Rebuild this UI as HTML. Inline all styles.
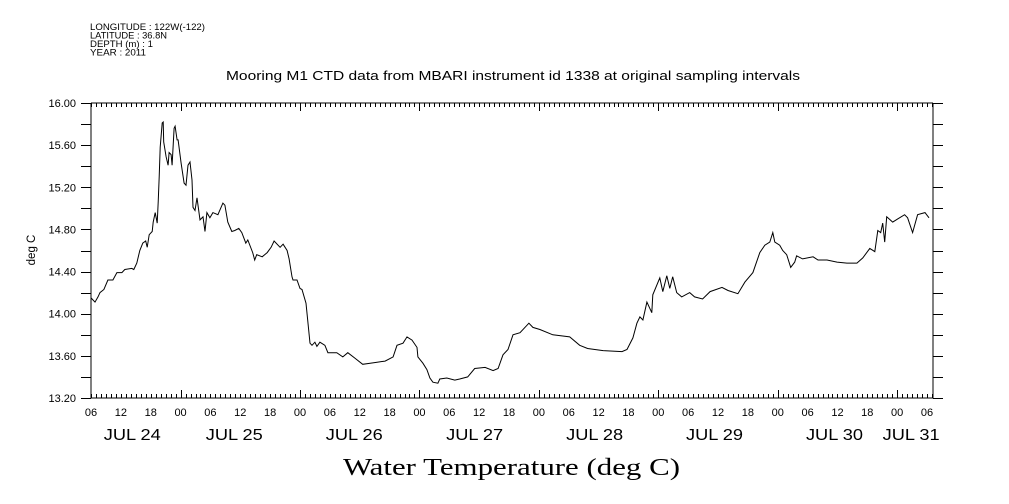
<!DOCTYPE html>
<html><head><meta charset="utf-8"><style>
body{margin:0;background:#fff}
svg{display:block}
text{font-family:"Liberation Sans",sans-serif;fill:#000}
</style></head><body>
<svg id="c" width="1009" height="504" viewBox="0 0 1009 504">
<g font-size="9">
<text x="90" y="30" textLength="115" lengthAdjust="spacingAndGlyphs">LONGITUDE : 122W(-122)</text>
<text x="90" y="38.5" textLength="77" lengthAdjust="spacingAndGlyphs">LATITUDE : 36.8N</text>
<text x="90" y="47" textLength="63" lengthAdjust="spacingAndGlyphs">DEPTH (m) : 1</text>
<text x="90" y="55.5" textLength="56" lengthAdjust="spacingAndGlyphs">YEAR : 2011</text>
</g>
<text x="226" y="80" font-size="12.5" textLength="574" lengthAdjust="spacingAndGlyphs">Mooring M1 CTD data from MBARI instrument id 1338 at original sampling intervals</text>
<text x="0" y="0" font-size="11.5" text-anchor="middle" transform="translate(35,250) rotate(-90)">deg C</text>
<text x="343" y="475" font-size="24" textLength="337" lengthAdjust="spacingAndGlyphs" style="font-family:'Liberation Serif',serif">Water Temperature (deg C)</text>
<g id="axes"></g>
<path id="line" fill="none" stroke="#000" stroke-width="1"/>
</svg>
<script>
const hours=[6.0,6.8,7.4,7.8,8.6,9.4,10.4,11.2,12.2,12.8,14.2,14.6,15.2,15.8,16.4,17.0,17.3,17.7,18.3,18.5,18.9,19.3,19.5,19.7,19.9,20.3,20.5,20.6,21.1,21.5,21.7,22.1,22.3,22.7,22.9,23.3,23.5,24.1,24.7,25.1,25.5,25.9,26.3,26.5,26.9,27.3,27.9,28.5,28.9,29.3,29.9,30.5,31.5,32.5,32.9,33.5,34.3,34.9,35.7,36.3,37.1,37.5,38.5,38.9,39.3,40.4,41.4,42.2,42.8,44.0,44.6,45.4,45.8,46.4,46.6,47.4,48.0,48.4,49.2,50.0,50.4,51.0,51.4,52.0,53.0,53.6,55.4,56.6,57.6,59.0,60.6,62.1,63.5,65.1,66.7,67.5,68.7,69.5,70.5,71.5,71.7,72.7,73.5,74.1,74.7,75.7,76.1,77.5,79.1,80.1,81.7,83.1,85.2,86.8,87.8,88.8,89.8,90.8,92.2,94.0,94.8,96.2,98.8,102.2,104.2,105.8,108.9,112.7,113.7,114.9,115.7,116.3,116.9,117.7,118.7,118.9,120.3,120.9,121.7,122.3,122.9,123.7,124.7,126.3,127.3,128.9,130.4,132.8,134.0,136.0,137.4,139.0,140.4,141.4,142.4,143.0,143.4,144.4,145.0,145.8,146.6,147.4,147.8,149.0,151.1,152.1,153.9,155.9,157.9,159.9,161.1,162.5,163.5,164.1,164.7,165.1,165.5,165.9,167.1,168.1,169.5,170.1,171.1,172.1,173.6,174.4];
const temps=[14.15,14.11,14.16,14.20,14.23,14.32,14.32,14.39,14.39,14.42,14.43,14.42,14.48,14.60,14.67,14.69,14.63,14.75,14.78,14.87,14.96,14.86,15.06,15.30,15.58,15.81,15.82,15.63,15.49,15.41,15.53,15.51,15.41,15.76,15.78,15.65,15.65,15.43,15.24,15.22,15.41,15.44,15.27,15.01,14.98,15.10,14.89,14.92,14.78,14.96,14.91,14.96,14.94,15.05,15.03,14.87,14.78,14.79,14.81,14.77,14.67,14.70,14.58,14.51,14.56,14.54,14.58,14.63,14.69,14.63,14.66,14.60,14.52,14.35,14.32,14.32,14.24,14.23,14.10,13.72,13.70,13.73,13.69,13.73,13.70,13.63,13.63,13.59,13.63,13.58,13.52,13.53,13.54,13.55,13.59,13.70,13.72,13.78,13.75,13.68,13.59,13.53,13.47,13.39,13.35,13.34,13.38,13.39,13.37,13.38,13.40,13.48,13.49,13.46,13.48,13.61,13.66,13.80,13.82,13.91,13.87,13.85,13.80,13.78,13.70,13.67,13.65,13.64,13.66,13.77,13.91,13.97,13.94,14.11,14.01,14.18,14.34,14.21,14.36,14.24,14.35,14.20,14.16,14.20,14.16,14.14,14.21,14.25,14.22,14.19,14.30,14.39,14.58,14.65,14.68,14.77,14.68,14.65,14.60,14.56,14.44,14.49,14.55,14.52,14.54,14.51,14.51,14.49,14.48,14.48,14.53,14.62,14.59,14.79,14.77,14.86,14.68,14.92,14.87,14.90,14.94,14.91,14.77,14.94,14.96,14.91];
const yTickLabels=["13.20","13.60","14.00","14.40","14.80","15.20","15.60","16.00"];
const hourLabels=["06","12","18","00"];
const dayLabels=["JUL 24","JUL 25","JUL 26","JUL 27","JUL 28","JUL 29","JUL 30","JUL 31"];
const dayLabelHours=[14.3,34.8,58.9,83.1,107.2,131.3,155.4,170.8];

const L=91,R=933,T=103,B=398,h0=6,h1=175.2,t0=13.2,t1=16.0;
const X=h=>L+(h-h0)/(h1-h0)*(R-L);
const Y=t=>B-(t-t0)/(t1-t0)*(B-T);
const NS='http://www.w3.org/2000/svg';
const ax=document.getElementById('axes');
function mk(tag,at,parent){const e=document.createElementNS(NS,tag);for(const k in at)e.setAttribute(k,at[k]);(parent||ax).appendChild(e);return e;}
let d='';
function seg(x1,y1,x2,y2){d+=`M${x1},${y1}L${x2},${y2}`;}
seg(L,T,R,T);seg(L,B,R,B);seg(L,T,L,B);seg(R,T,R,B);
for(let i=0;i<=14;i++){const y=Math.round(Y(t0+i*0.2))+0.5;seg(L-10,y,L,y);seg(R,y,R+10,y);}
for(let h=6;h<=h1;h++){const x=Math.round(X(h))+0.5;const len=(h%24===0)?8:4;seg(x,B,x,B-len);seg(x,T,x,T+len);}
const p=mk('path',{d:d,stroke:'#000','stroke-width':1,fill:'none'});


yTickLabels.forEach((s,i)=>{const t=mk('text',{x:76,y:Y(parseFloat(s))+4,'font-size':11,'text-anchor':'end'});t.textContent=s;

});
for(let h=6,i=0;h<=174;h+=6,i++){const t=mk('text',{x:X(h),y:416,'font-size':11,'text-anchor':'middle'});t.textContent=hourLabels[i%4];

}
dayLabels.forEach((s,i)=>{const t=mk('text',{x:X(dayLabelHours[i])-28.5,y:440,'font-size':16,textLength:57,lengthAdjust:'spacingAndGlyphs'});t.textContent=s;

});
document.getElementById('line').setAttribute('d',hours.map((h,i)=>(i?'L':'M')+X(h).toFixed(1)+','+Y(temps[i]).toFixed(1)).join(''));
</script>
</body></html>
